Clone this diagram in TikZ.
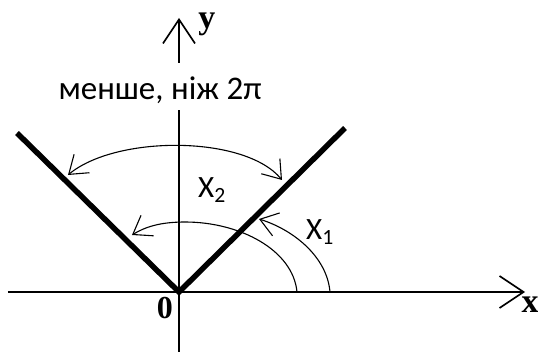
\documentclass[tikz,border=0pt]{standalone}
\usepackage{fontspec}
\setmainfont{Liberation Serif}
\setsansfont{Carlito}
\usetikzlibrary{arrows.meta,calc,positioning}

\begin{document}
\begin{tikzpicture}[
        x=1pt, y=1pt,
        axis/.style={line width=1.6pt, -{Straight Barb[length=24pt,width=32pt]}},
        ray/.style={line width=5.5pt},
        arc/.style={line width=1.1pt, >={Straight Barb[length=17pt,width=24pt]}},
        lbl/.style={font=\fontsize{31}{33}\selectfont\sffamily, inner sep=1pt},
        axlbl/.style={font=\fontsize{34}{36}\selectfont\bfseries, inner sep=0pt}
    ]
        \useasboundingbox (-179,-59) rectangle (359,292);
        \coordinate (O) at (0,0);
        \coordinate (xs) at (-171,0);
        \coordinate (xe) at (346,0);
        \coordinate (ys) at (0,-60);
        \coordinate (ye) at (0,274);
        \coordinate (R) at (166,164);
        \coordinate (L) at (-162,159);
        \draw[axis] (xs) -- (xe);
        \draw[axis] (ys) -- (ye);
        \draw[ray] (L) -- (O) -- (R);
        % arcs
        \coordinate (o1) at (103,112);
        \coordinate (o2) at (-111,117);
        \coordinate (i0) at (118,0);
        \coordinate (itop) at (6,70);
        \coordinate (i1) at (-47,57);
        \coordinate (a0) at (151,0);
        \coordinate (a1) at (80,73);
        \draw[arc, <->] (o1) .. controls (66,157) and (-63,157) .. (o2);
        \draw[arc, ->] (i0) .. controls (114,42) and (61,70) .. (itop)
            .. controls (-19,70) and (-34,65) .. (i1);
        \draw[arc, ->] (a0) .. controls (148,35) and (115,62) .. (a1);
        % labels
        \node[lbl, font=\fontsize{33}{35}\selectfont\sffamily, fill=white, text height=34pt, text depth=7pt, inner ysep=3pt, anchor=base] (note) at (-19,192) {менше, ніж 2π};
        \node[lbl] (x2) at (33,102) {X\textsubscript{2}};
        \node[lbl] (x1) at (141,60) {X\textsubscript{1}};
        \node[axlbl, font=\fontsize{32}{34}\selectfont\bfseries] (zero) at (-14,-16) {0};
        \node[axlbl] (ylbl) at (28,268) {y};
        \node[axlbl] (xlbl) at (351,-13) {x};
    \end{tikzpicture}
\end{document}
